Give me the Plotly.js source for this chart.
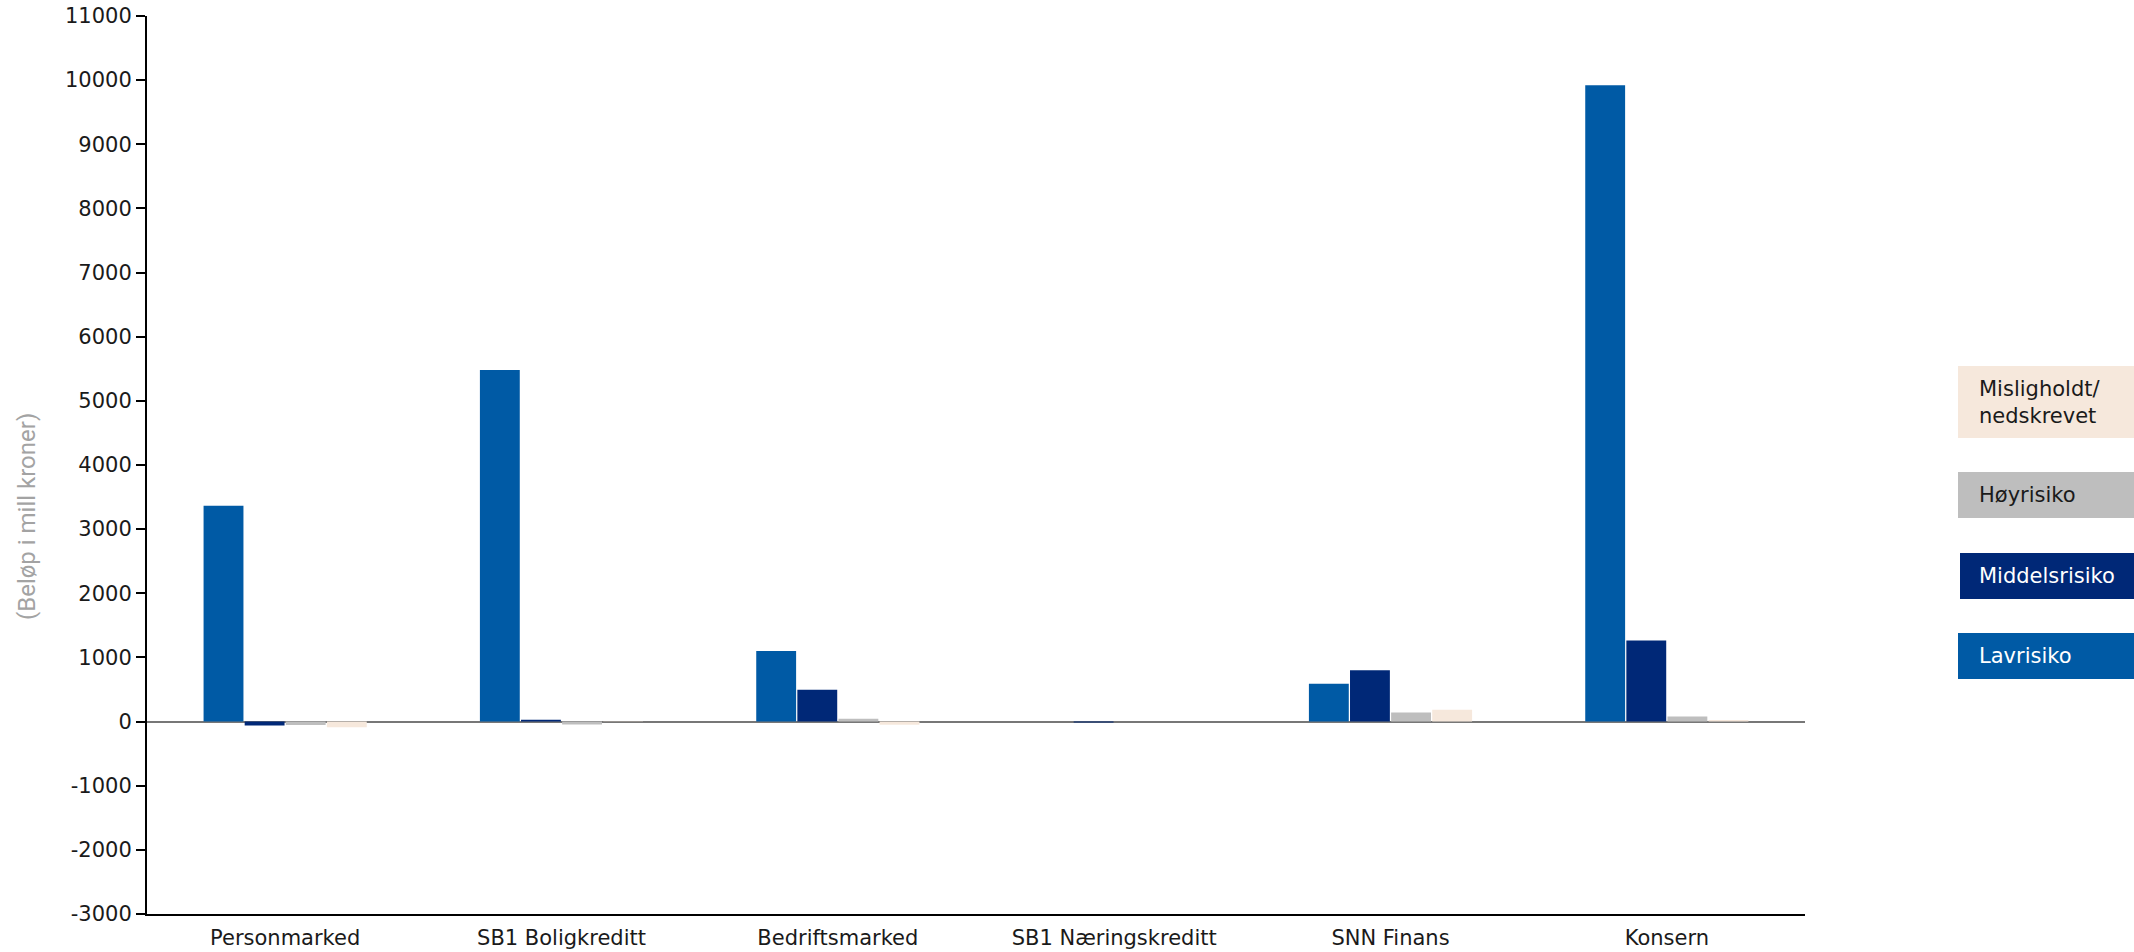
<!DOCTYPE html>
<html>
<head>
<meta charset="utf-8">
<script src="https://cdn.plot.ly/plotly-3.0.1.min.js"></script>
<style>html,body{margin:0;padding:0;background:#fff;}#chart{width:2134px;height:952px;}</style>
</head>
<body>
<div id="chart"></div>
<script>
const categories = ["Personmarked", "SB1 Boligkreditt", "Bedriftsmarked", "SB1 Næringskreditt", "SNN Finans", "Konsern"];
const seriesNames = ["Lavrisiko", "Middelsrisiko", "Høyrisiko", "Misligholdt/<br>nedskrevet"];
const lavrisiko     = [3365, 5480, 1100, 0, 590, 9920];
const middelsrisiko = [-60, 30, 495, -15, 800, 1265];
const hoyrisiko     = [-55, -45, 45, 0, 140, 80];
const misligholdt   = [-90, 5, -50, 0, 185, 25];
const yTicks = [-3000, -2000, -1000, 0, 1000, 2000, 3000, 4000, 5000, 6000, 7000, 8000, 9000, 10000, 11000];

const colors = ["#005AA5", "#002877", "#BEBEBE", "#F6E8DC"];
const textColors = ["#ffffff", "#ffffff", "#1a1a1a", "#1a1a1a"];
const values = [lavrisiko, middelsrisiko, hoyrisiko, misligholdt];

const FONT = "DejaVu Sans, Noto Sans, sans-serif";

const traces = values.map((v, i) => ({
  type: "bar",
  name: seriesNames[i].replace("<br>", " "),
  x: categories,
  y: v,
  marker: {color: colors[i], line: {width: 0}},
  showlegend: false,
  hovertemplate: "%{x}: %{y}<extra>" + seriesNames[i].replace("<br>", " ") + "</extra>"
}));

// plot area in pixels
const W = 2134, H = 952;
const L = 147, R = 1805, T = 16, B = 914;
const px = x => (x - L) / (R - L);
const py = y => (B - y) / (B - T);

// legend boxes (pixel geometry, top to bottom)
const legendBoxes = [
  {s: 3, x0: 1958, y0: 366, y1: 438},
  {s: 2, x0: 1958, y0: 472, y1: 518},
  {s: 1, x0: 1960, y0: 553, y1: 599},
  {s: 0, x0: 1958, y0: 633, y1: 679}
];
const shapes = legendBoxes.map(b => ({
  type: "rect", xref: "paper", yref: "paper", layer: "below",
  x0: px(b.x0), x1: px(W + 5), y0: py(b.y1), y1: py(b.y0),
  fillcolor: colors[b.s], line: {width: 0}
}));
const annotations = legendBoxes.map(b => ({
  xref: "paper", yref: "paper", x: px(1977), y: py((b.y0 + b.y1) / 2),
  xanchor: "left", yanchor: "middle", align: "left", showarrow: false,
  text: seriesNames[b.s], font: {family: FONT, size: 21, color: textColors[b.s]}
}));
annotations.push({
  xref: "paper", yref: "paper", x: px(27), y: py(516),
  xanchor: "center", yanchor: "middle", showarrow: false, textangle: -90,
  text: "(Beløp i mill kroner)", font: {family: "Roboto, Liberation Sans, sans-serif", size: 24, color: "#A3A3A3"}
});

const layout = {
  width: W, height: H,
  margin: {l: L, r: W - R, t: T, b: H - B, pad: 0},
  paper_bgcolor: "#ffffff", plot_bgcolor: "#ffffff",
  barmode: "group", bargap: 0.405, bargroupgap: 0.03,
  font: {family: FONT, size: 21, color: "#1a1a1a"},
  xaxis: {
    type: "category", showgrid: false, zeroline: false,
    showline: true, linecolor: "#000", linewidth: 2,
    ticks: "", ticklabelstandoff: 4,
    tickfont: {family: FONT, size: 21, color: "#1a1a1a"}
  },
  yaxis: {
    range: [-3000, 11000], tickvals: yTicks, ticktext: yTicks.map(String),
    showgrid: false, zeroline: true, zerolinecolor: "#777", zerolinewidth: 2,
    showline: true, linecolor: "#000", linewidth: 2,
    ticks: "outside", ticklen: 9, tickwidth: 2, tickcolor: "#000",
    tickfont: {family: FONT, size: 21, color: "#1a1a1a"}
  },
  shapes: shapes,
  annotations: annotations,
  showlegend: false
};

Plotly.newPlot("chart", traces, layout, {displayModeBar: false, staticPlot: true});
</script>
</body>
</html>
